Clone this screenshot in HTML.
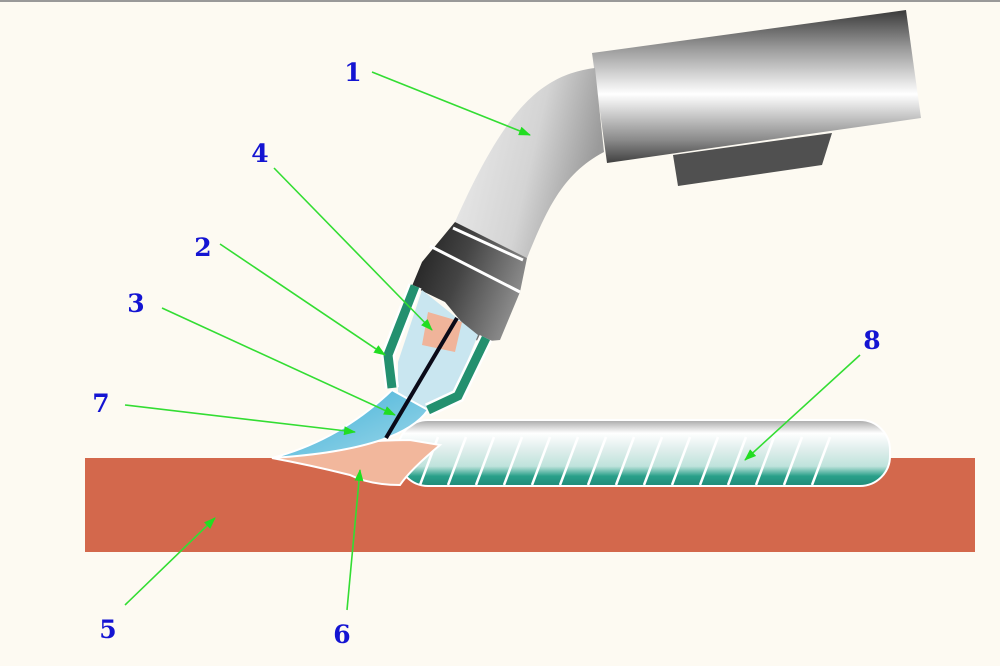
<!DOCTYPE html>
<html><head><meta charset="utf-8"><style>
html,body{margin:0;padding:0;background:#fdfaf2;}
svg{display:block}
text{font-family:"DejaVu Serif","Liberation Serif",serif;font-weight:bold;font-size:25px;fill:#1414d2;text-anchor:middle}
</style></head><body>
<svg width="1000" height="666" viewBox="0 0 1000 666">
<defs>
<linearGradient id="cyl" x1="0" y1="0" x2="0" y2="1">
<stop offset="0" stop-color="#3a3a3a"/><stop offset="0.25" stop-color="#9a9a9a"/><stop offset="0.55" stop-color="#ffffff"/><stop offset="0.85" stop-color="#8a8a8a"/><stop offset="1" stop-color="#404040"/></linearGradient>
<linearGradient id="tube" x1="0" y1="0" x2="1" y2="0.3">
<stop offset="0" stop-color="#eeeeee"/><stop offset="0.6" stop-color="#d4d4d4"/><stop offset="1" stop-color="#9a9a9a"/></linearGradient>
<linearGradient id="collar" x1="0" y1="0" x2="1" y2="0.4">
<stop offset="0" stop-color="#1a1a1a"/><stop offset="0.5" stop-color="#444"/><stop offset="1" stop-color="#8a8a8a"/></linearGradient>
<linearGradient id="bead" x1="0" y1="0" x2="0" y2="1">
<stop offset="0" stop-color="#a8a8a8"/><stop offset="0.2" stop-color="#ffffff"/><stop offset="0.45" stop-color="#dfeeec"/><stop offset="0.7" stop-color="#bfe3dc"/><stop offset="0.85" stop-color="#2aa08a"/><stop offset="1" stop-color="#1f8a78"/></linearGradient>
<linearGradient id="cone" x1="0" y1="0" x2="1" y2="1">
<stop offset="0" stop-color="#3aaed6"/><stop offset="1" stop-color="#9fd8ea"/></linearGradient>
<marker id="ah" markerWidth="12" markerHeight="9" refX="11" refY="4.5" orient="auto" markerUnits="userSpaceOnUse">
<path d="M0,0 L12,4.5 L0,9 Z" fill="#22dd22"/></marker>
</defs>
<rect x="0" y="0" width="1000" height="2" fill="#999"/>
<rect x="85" y="458" width="890" height="94" fill="#d3684c"/>
<rect x="398" y="420" width="492" height="66" rx="30" fill="url(#bead)" stroke="#fff" stroke-width="2"/>
<g stroke="#fff" stroke-width="2.5" fill="none">
<path d="M420,485 l18,-48 M448,485 l18,-48 M476,485 l18,-48 M504,485 l18,-48 M532,485 l18,-48 M560,485 l18,-48 M588,485 l18,-48 M616,485 l18,-48 M644,485 l18,-48 M672,485 l18,-48 M700,485 l18,-48 M728,485 l18,-48 M756,485 l18,-48 M784,485 l18,-48 M812,485 l18,-48"/>
</g>
<path d="M272,458 Q340,440 410,440 L440,445 Q410,470 400,485 Q370,485 350,475 Q310,465 272,458Z" fill="#f2b79c" stroke="#fff" stroke-width="2"/>
<polygon points="673,155 832,133 822,165 678,186" fill="#505050"/>
<polygon points="592,53 906,10 921,118 607,163" fill="url(#cyl)"/>
<path d="M595,68 C540,75 505,110 455,222 L527,258 C545,215 560,175 604,152 Z" fill="url(#tube)"/>
<polygon points="455,222 527,258 520,292 500,340 478,342 445,302 412,286 422,262" fill="url(#collar)"/>
<path d="M453,228 L523,260 M430,246 L520,292" stroke="#fff" stroke-width="3"/>
<polygon points="422,290 478,335 452,398 428,410 398,392 398,362" fill="#c9e6f0"/>
<polygon points="428,312 462,322 455,352 422,345" fill="#f0b49a"/>
<path d="M392,390 L428,410 Q400,450 272,458 Q340,440 392,390Z" fill="url(#cone)" stroke="#fff" stroke-width="2"/>
<path d="M415,286 L388,355 L392,388" stroke="#fff" stroke-width="14" fill="none"/>
<path d="M415,286 L388,355 L392,388" stroke="#23906f" stroke-width="9" fill="none"/>
<path d="M486,338 L458,396 L428,410" stroke="#fff" stroke-width="14" fill="none"/>
<path d="M486,338 L458,396 L428,410" stroke="#23906f" stroke-width="9" fill="none"/>
<line x1="457" y1="318" x2="386" y2="438" stroke="#0a0a18" stroke-width="4"/>
<g stroke="#33dd33" stroke-width="1.6" fill="none" marker-end="url(#ah)">
<line x1="372" y1="72" x2="530" y2="135"/>
<line x1="274" y1="168" x2="432" y2="330"/>
<line x1="220" y1="244" x2="385" y2="355"/>
<line x1="162" y1="308" x2="395" y2="415"/>
<line x1="125" y1="405" x2="355" y2="432"/>
<line x1="125" y1="605" x2="215" y2="518"/>
<line x1="347" y1="610" x2="360" y2="470"/>
<line x1="860" y1="355" x2="745" y2="460"/>
</g>
<text x="353" y="81">1</text>
<text x="260" y="162">4</text>
<text x="203" y="256">2</text>
<text x="136" y="312">3</text>
<text x="101" y="412">7</text>
<text x="108" y="638">5</text>
<text x="342" y="643">6</text>
<text x="872" y="349">8</text>
</svg>
</body></html>
